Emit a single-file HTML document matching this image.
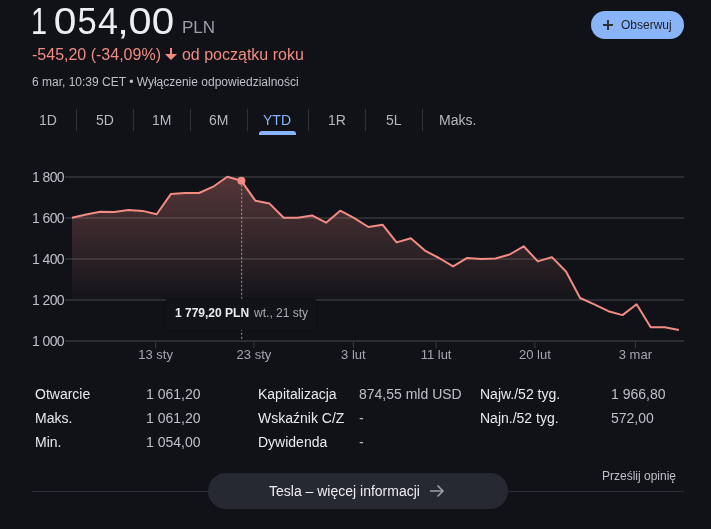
<!DOCTYPE html>
<html lang="pl">
<head>
<meta charset="utf-8">
<style>
*{margin:0;padding:0;box-sizing:border-box}
html,body{width:711px;height:529px;overflow:hidden;background:#101218}
body{font-family:"Liberation Sans",Arial,sans-serif;color:#e8eaed;position:relative}
.abs{position:absolute;white-space:nowrap}
.big{font-size:36px;line-height:42px;color:#eceef0;top:1px}
#cur{left:182px;top:18px;font-size:17px;line-height:20px;color:#9aa0a6}
#chg{left:32px;top:45px;font-size:16px;line-height:20px;color:#f28b82}
#chg .arr{display:inline-block;vertical-align:-1px;margin:0 5px 0 4px}
#date{left:32px;top:74px;font-size:12px;line-height:16px;color:#bdc1c6}
#btn{left:591px;top:11px;width:93px;height:28px;border-radius:14px;background:#8ab4f8;color:#1f2024;font-size:12px;line-height:28px}
#btn svg{position:absolute;left:12px;top:9px}
#btn span{position:absolute;left:30px;top:0}
.tab{position:absolute;top:111px;font-size:14px;line-height:18px;color:#b4b8bd;text-align:center}
.sep{position:absolute;top:109px;width:1px;height:22px;background:#2f3136}
#ul{position:absolute;left:259px;top:131px;width:37px;height:4px;border-radius:3px 3px 0 0;background:#8ab4f8}
.ylab{position:absolute;left:32px;font-size:14px;line-height:15px;letter-spacing:-0.6px;color:#bdc1c6}
.xlab{position:absolute;top:347px;font-size:13px;line-height:15px;color:#a4a8ae;transform:translateX(-50%)}
.st{position:absolute;font-size:14px;line-height:18px}
.st.k{color:#e8eaed}
.st.v{color:#bdc1c6}
</style>
</head>
<body>
<div class="abs" style="left:0;top:0;width:180px;height:42px"><span class="abs big" style="left:29.2px;transform:scaleX(0.8);transform-origin:10.5px 50%;">1&nbsp;</span><span class="abs big" style="left:55.2px;transform:scaleX(1.13);transform-origin:10px 50%;">0</span><span class="abs big" style="left:77.0px;transform:scaleX(0.96);transform-origin:10px 50%;">5</span><span class="abs big" style="left:97.9px;">4</span><span class="abs big" style="left:117.9px;transform:scaleX(1.15);transform-origin:5px 50%;">,</span><span class="abs big" style="left:129.7px;transform:scaleX(1.15);transform-origin:10px 50%;">0</span><span class="abs big" style="left:152.5px;transform:scaleX(1.12);transform-origin:10px 50%;">0</span></div>
<div id="cur" class="abs">PLN</div>
<div id="chg" class="abs">-545,20 (-34,09%)<svg class="arr" width="12" height="13" viewBox="0 0 12 13"><path d="M5 0h2v7h-2z M0 6h12l-6 6z" fill="#f28b82"/></svg>od początku roku</div>
<div id="date" class="abs">6 mar, 10:39 CET • Wyłączenie odpowiedzialności</div>
<div id="btn" class="abs"><svg width="10" height="10" viewBox="0 0 10 10"><path d="M5 0v10M0 5h10" stroke="#303236" stroke-width="2"/></svg><span>Obserwuj</span></div>

<div class="tab" style="left:39px">1D</div>
<div class="sep" style="left:76px"></div>
<div class="tab" style="left:96px">5D</div>
<div class="sep" style="left:133px"></div>
<div class="tab" style="left:152px">1M</div>
<div class="sep" style="left:190px"></div>
<div class="tab" style="left:209px">6M</div>
<div class="sep" style="left:247px"></div>
<div class="tab" style="left:263px;color:#8ab4f8">YTD</div>
<div class="sep" style="left:308px"></div>
<div class="tab" style="left:328px">1R</div>
<div class="sep" style="left:365px"></div>
<div class="tab" style="left:386px">5L</div>
<div class="sep" style="left:422px"></div>
<div class="tab" style="left:439px">Maks.</div>
<div id="ul"></div>

<svg class="abs" style="left:0;top:0" width="711" height="529" viewBox="0 0 711 529">
<defs>
<linearGradient id="g" x1="0" y1="177" x2="0" y2="300" gradientUnits="userSpaceOnUse">
<stop offset="0" stop-color="#f28b82" stop-opacity="0.3"/>
<stop offset="0.69" stop-color="#f28b82" stop-opacity="0.11"/>
<stop offset="1" stop-color="#f28b82" stop-opacity="0.02"/>
</linearGradient>
<clipPath id="cp"><rect x="0" y="0" width="711" height="300"/></clipPath>
</defs>
<g fill="#2a2d32">
<rect x="65" y="176" width="619" height="2"/>
<rect x="65" y="217" width="619" height="2"/>
<rect x="65" y="258" width="619" height="2"/>
<rect x="65" y="299" width="619" height="2"/>
<rect x="65" y="340" width="619" height="2"/>
</g>
<path fill="url(#g)" clip-path="url(#cp)" d="M72.0,217.8 L86.1,214.6 L100.2,211.7 L114.3,211.9 L128.5,209.9 L142.6,210.9 L156.7,214.2 L170.8,194.1 L184.9,193.0 L199.0,193.0 L213.2,186.7 L227.3,176.8 L241.4,180.8 L255.5,200.8 L269.6,203.6 L283.7,217.8 L297.8,217.8 L312.0,215.4 L326.1,222.7 L340.2,210.7 L354.3,218.2 L368.4,227.0 L382.5,224.7 L396.6,242.4 L410.8,238.2 L424.9,250.6 L439.0,258.0 L453.1,266.3 L467.2,257.9 L481.3,258.9 L495.4,258.5 L509.6,254.5 L523.7,246.3 L537.8,261.4 L551.9,257.1 L566.0,271.5 L580.1,298.0 L594.3,304.3 L608.4,311.2 L622.5,315.1 L636.6,304.3 L650.7,327.3 L664.8,327.3 L678.9,329.9 L678.9,300 L72.0,300 Z"/>
<path fill="none" stroke="#f28b82" stroke-width="2" stroke-linejoin="round" d="M72.0,217.8 L86.1,214.6 L100.2,211.7 L114.3,211.9 L128.5,209.9 L142.6,210.9 L156.7,214.2 L170.8,194.1 L184.9,193.0 L199.0,193.0 L213.2,186.7 L227.3,176.8 L241.4,180.8 L255.5,200.8 L269.6,203.6 L283.7,217.8 L297.8,217.8 L312.0,215.4 L326.1,222.7 L340.2,210.7 L354.3,218.2 L368.4,227.0 L382.5,224.7 L396.6,242.4 L410.8,238.2 L424.9,250.6 L439.0,258.0 L453.1,266.3 L467.2,257.9 L481.3,258.9 L495.4,258.5 L509.6,254.5 L523.7,246.3 L537.8,261.4 L551.9,257.1 L566.0,271.5 L580.1,298.0 L594.3,304.3 L608.4,311.2 L622.5,315.1 L636.6,304.3 L650.7,327.3 L664.8,327.3 L678.9,329.9"/>
<line x1="241.7" y1="180.8" x2="241.7" y2="340" stroke="#9aa0a6" stroke-width="1" stroke-dasharray="2,2"/>
<circle cx="241.4" cy="180.8" r="4" fill="#f28b82"/>
<g fill="#3a3d41">
<rect x="155.10" y="342" width="1" height="6"/>
<rect x="253.45" y="342" width="1" height="6"/>
<rect x="352.90" y="342" width="1" height="6"/>
<rect x="435.57" y="342" width="1" height="6"/>
<rect x="534.40" y="342" width="1" height="6"/>
<rect x="634.90" y="342" width="1" height="6"/>
</g>
</svg>
<div class="ylab" style="top:170px">1 800</div>
<div class="ylab" style="top:211px">1 600</div>
<div class="ylab" style="top:252px">1 400</div>
<div class="ylab" style="top:293px">1 200</div>
<div class="ylab" style="top:334px">1 000</div>

<div class="xlab" style="left:155.60px">13 sty</div>
<div class="xlab" style="left:253.95px">23 sty</div>
<div class="xlab" style="left:353.40px">3 lut</div>
<div class="xlab" style="left:436.07px">11 lut</div>
<div class="xlab" style="left:534.90px">20 lut</div>
<div class="xlab" style="left:635.40px">3 mar</div>
<div class="abs" style="left:166px;top:299px;width:150px;height:31px;background:#121318;box-shadow:0 0 4px rgba(0,0,0,.4);font-size:12px;line-height:16px;padding:6px 0 0 9px"><b style="color:#e8eaed">1 779,20 PLN</b><span style="color:#a8acb2;margin-left:5px">wt., 21 sty</span></div>

<div class="st k" style="left:35px;top:385px">Otwarcie</div>
<div class="st v" style="left:146px;top:385px">1 061,20</div>
<div class="st k" style="left:35px;top:409px">Maks.</div>
<div class="st v" style="left:146px;top:409px">1 061,20</div>
<div class="st k" style="left:35px;top:433px">Min.</div>
<div class="st v" style="left:146px;top:433px">1 054,00</div>
<div class="st k" style="left:258px;top:385px">Kapitalizacja</div>
<div class="st v" style="left:359px;top:385px">874,55 mld USD</div>
<div class="st k" style="left:258px;top:409px">Wskaźnik C/Z</div>
<div class="st v" style="left:359px;top:409px">-</div>
<div class="st k" style="left:258px;top:433px">Dywidenda</div>
<div class="st v" style="left:359px;top:433px">-</div>
<div class="st k" style="left:480px;top:385px">Najw./52 tyg.</div>
<div class="st v" style="left:611px;top:385px">1 966,80</div>
<div class="st k" style="left:480px;top:409px">Najn./52 tyg.</div>
<div class="st v" style="left:611px;top:409px">572,00</div>

<div class="abs" style="left:602px;top:468px;font-size:12px;line-height:16px;color:#bdc1c6">Prześlij opinię</div>
<div class="abs" style="left:32px;top:491px;width:652px;height:1px;background:#2c2e35"></div>
<div class="abs" style="left:208px;top:473px;width:300px;height:36px;border-radius:18px;background:#262932"></div>
<div class="abs" style="left:269px;top:482px;font-size:14px;line-height:18px;color:#eceef0">Tesla – więcej informacji</div>
<svg class="abs" style="left:429px;top:483px" width="16" height="16" viewBox="0 0 16 16"><path d="M1 8h13M8.5 2.5L14 8l-5.5 5.5" stroke="#9aa0a6" stroke-width="1.6" fill="none"/></svg>
</body>
</html>
